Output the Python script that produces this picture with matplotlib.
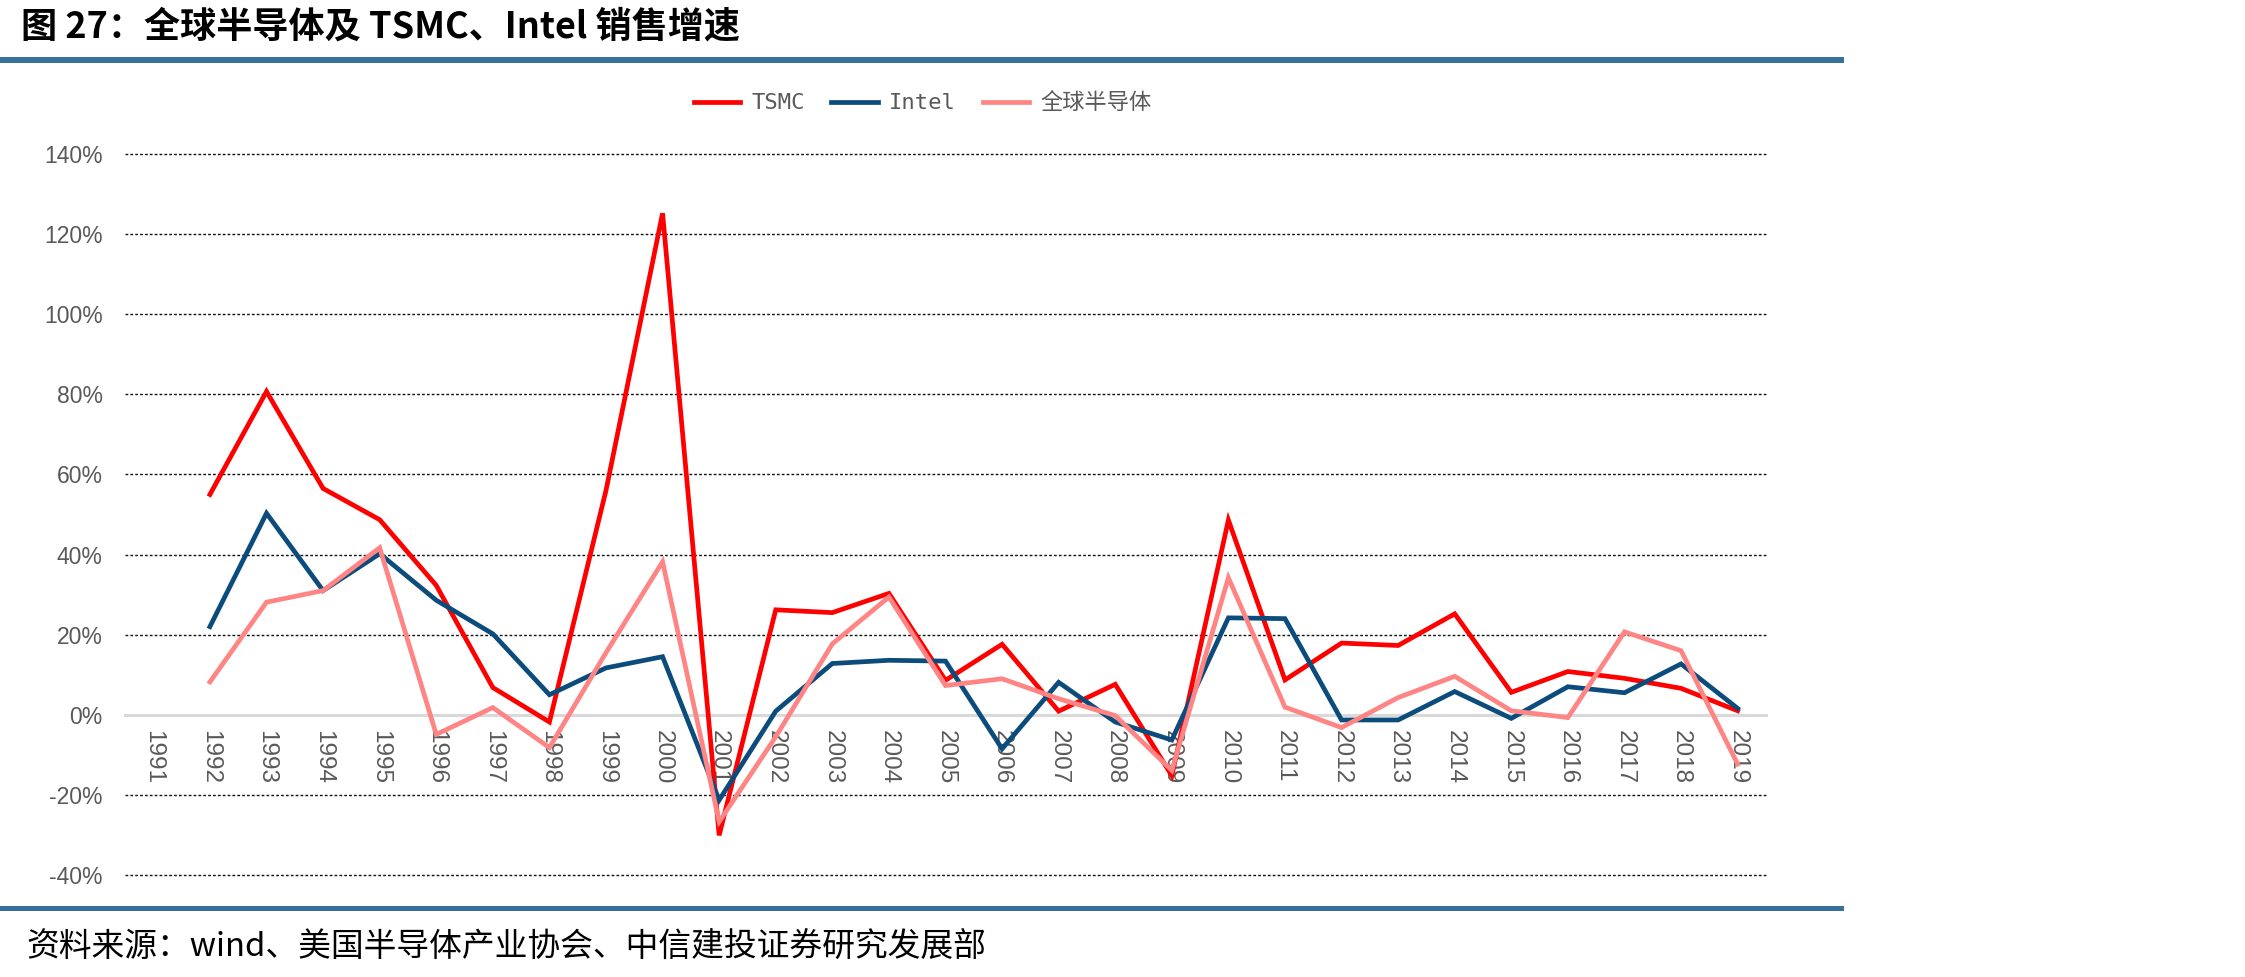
import numpy as np
import matplotlib
matplotlib.use("Agg")
import matplotlib.pyplot as plt
from matplotlib.lines import Line2D
from matplotlib.ticker import FuncFormatter

# data (growth in %), 1991 has no values
years = [str(y) for y in range(1991, 2020)]
tsmc = [np.nan, 55, 80.7, 56.5, 48.7, 32.3, 6.8, -1.8, 56, 125.2, -30.1, 26.2, 25.5, 30.3,
        8.6, 17.6, 0.9, 7.6, -15.2, 48.6, 8.7, 17.9, 17.3, 25.2, 5.6, 10.8, 9.1, 6.6, 1.0]
intel = [np.nan, 22, 50.3, 31, 40.2, 28.6, 20.2, 5, 11.7, 14.5, -21.3, 0.9, 12.8, 13.6,
         13.4, -8.5, 8.1, -1.8, -6.3, 24.2, 24.0, -1.3, -1.3, 5.8, -0.9, 7.0, 5.5, 12.7, 1.6]
world = [np.nan, 8.2, 28.1, 31, 41.7, -4.9, 1.8, -8.2, 15.5, 38.2, -26.7, -5.5, 17.7, 29.4,
         7.3, 9.0, 4.0, -0.2, -13.9, 34.2, 1.9, -3.2, 4.3, 9.6, 1.0, -0.7, 20.7, 16.0, -12.3]
series_names = ["TSMC", "Intel", "全球半导体"]
series_colors = ["#ff0000", "#0b4c7c", "#ff8585"]
yticks = list(range(-40, 141, 20))

plt.rcParams['font.family'] = ['Liberation Sans', 'Noto Sans CJK SC']

fig = plt.figure(figsize=(22.45, 9.77), dpi=100)
ax = fig.add_axes([0.0557, 0.1044, 0.7309, 0.738])

x = np.arange(len(years))
for vals, name, col in zip([tsmc, intel, world], series_names, series_colors):
    ax.plot(x, vals, color=col, lw=3.4, label=name, zorder=3,
            solid_joinstyle='miter')

ax.set_xlim(-0.5, len(years) - 0.5)
ax.set_ylim(-40, 140)
ax.set_yticks(yticks)
ax.yaxis.set_major_formatter(FuncFormatter(lambda v, p: f"{v:.0f}%"))
ax.set_xticks(x)
ax.set_xticklabels(years)
ax.tick_params(axis='y', length=0, pad=16, labelsize=16.5, labelcolor='#595959')
ax.tick_params(axis='x', length=0, pad=11, labelsize=17.5, labelcolor='#595959',
               labelrotation=-90)
for lbl in ax.get_xticklabels():
    lbl.set_va('top')
    lbl.set_ha('center')

ax.yaxis.grid(True, color='#111111', lw=1.0, linestyle=(0, (2, 1.5)))
for gl in ax.yaxis.get_gridlines():
    gl.set_clip_on(False)
ax.set_axisbelow(True)
for s in ['top', 'right', 'left']:
    ax.spines[s].set_visible(False)
ax.spines['bottom'].set_position(('data', 0))
ax.spines['bottom'].set_color('#d9d9d9')
ax.spines['bottom'].set_linewidth(2.2)
ax.spines['bottom'].set_zorder(2.5)

fig.legend(loc='center', bbox_to_anchor=(0.411, 0.8946), ncol=3, frameon=False,
           prop={'family': ['DejaVu Sans Mono', 'Noto Sans CJK SC'], 'size': 16},
           labelcolor='#595959', handlelength=2.1, handletextpad=0.5,
           columnspacing=1.2)

fig.text(0.0094, 0.972, "图 27：全球半导体及 TSMC、Intel 销售增速", fontsize=26,
         fontweight='bold', family=['Noto Sans CJK SC', 'DejaVu Sans'],
         ha='left', va='center')
fig.text(0.0116, 0.0307, "资料来源：wind、美国半导体产业协会、中信建投证券研究发展部",
         fontsize=23.6, style='italic', family=['Noto Sans CJK SC', 'DejaVu Sans'],
         ha='left', va='center')

fig.add_artist(Line2D([0, 0.82], [0.9389, 0.9389], transform=fig.transFigure,
                      color='#37709a', lw=4.3))
fig.add_artist(Line2D([0, 0.82], [0.0706, 0.0706], transform=fig.transFigure,
                      color='#37709a', lw=3.6))

fig.savefig("out.png", dpi=100)
